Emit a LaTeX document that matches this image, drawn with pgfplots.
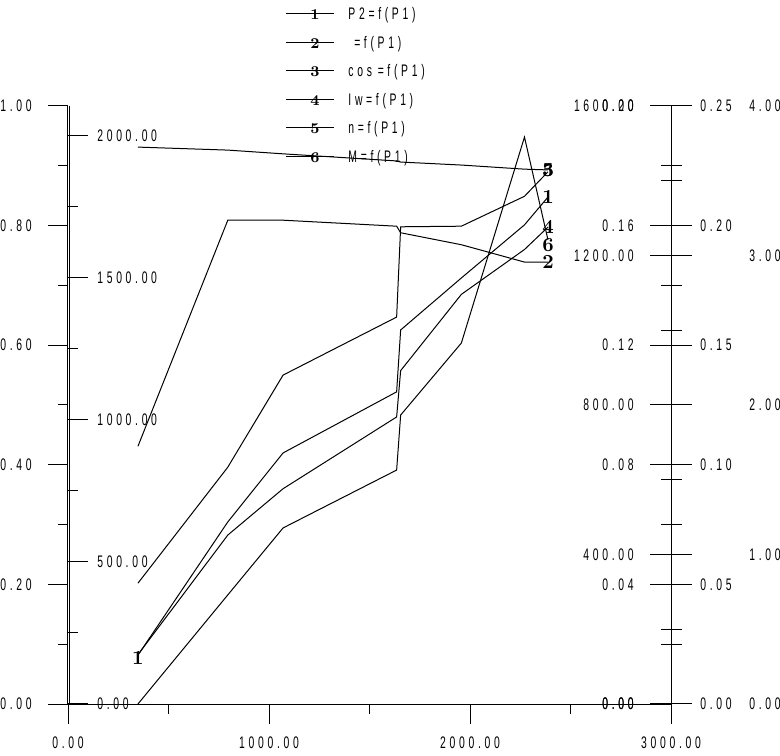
\documentclass[border=0pt]{standalone}
\usepackage{fontspec}
\usepackage{pgfplots}
\pgfplotsset{compat=1.18}
\newfontfamily\pf[FakeStretch=0.62,LetterSpace=22]{Liberation Sans}
\newcommand\pfs{\pf\fontsize{8.4}{9}\selectfont}
\newcommand\lbl{\fontsize{10}{10}\selectfont\bfseries}
\newcommand\lgd{\fontsize{7.5}{7.5}\selectfont\bfseries}

\pgfplotsset{
  base/.style={
    scale only axis, width=301.5bp, height=299bp,
    at={(34bp,26bp)}, anchor=origin,
    xmin=0, xmax=3000, clip=false,
    every tick/.style={black, line width=0.5bp},
    ticklabel style={font=\pfs, inner sep=0pt},
    every axis plot post/.append style={black, line width=0.5bp, mark=none},
    /pgf/number format/assume math mode=true,
    /pgf/number format/fixed, /pgf/number format/fixed zerofill,
    /pgf/number format/precision=2, /pgf/number format/1000 sep={},
  },
  over/.style={base, axis x line=none, xtick=\empty},
  plain/.style={axis line style={-, line width=0.5bp}},
  rticks/.style={tick align=center, major tick length=20.5bp, minor tick length=10.5bp},
  lg/.style={legend image code/.code={
    \draw[black, line width=0.5bp] (0bp,0bp) -- (24bp,0bp)
      node[midway, inner sep=0pt, font=\lgd] {#1};}},
}

\begin{document}
\begin{tikzpicture}
\path[use as bounding box] (0bp,0bp) rectangle (390bp,378bp);

% main axis: P1 on x, eta and cos phi on 0..1
\begin{axis}[base, ymin=0, ymax=1,
  axis x line=bottom, axis y line=left, plain, y axis line style={xshift=-0.5bp},
  xtick={0,1000,2000,3000}, minor xtick={500,1500,2500},
  ytick={0,0.2,0.4,0.6,0.8,1}, minor ytick={0.1,0.3,0.5,0.7,0.9},
  tick align=outside, major tick length=10bp, minor tick length=5bp,
  xticklabel style={anchor=north, yshift=-6bp},
  yticklabel style={anchor=east, xshift=-8bp},
  legend style={at={(0.36,1.165)}, anchor=north west, draw=none, fill=none,
    font=\pfs, row sep=8.25bp, column sep=7bp, inner sep=0pt,
    nodes={inner sep=0pt, text height=6bp, text depth=0bp}},
  legend cell align=left,
]
\addlegendimage{lg=1}\addlegendentry{P2=f(P1)}
\addlegendimage{lg=2}\addlegendentry{\hphantom{n}=f(P1)}
\addlegendimage{lg=3}\addlegendentry{cos\hphantom{n}=f(P1)}
\addlegendimage{lg=4}\addlegendentry{Iw=f(P1)}
\addlegendimage{lg=5}\addlegendentry{n=f(P1)}
\addlegendimage{lg=6}\addlegendentry{M=f(P1)}
% eta
\addplot[forget plot] coordinates {(348,0.431)(795,0.809)(1070,0.809)(1635,0.799)
  (1655,0.788)(1957,0.768)(2271,0.739)(2388,0.739)} node[pos=1, font=\lbl]{2};
% cos phi
\addplot[forget plot] coordinates {(348,0.202)(795,0.396)(1070,0.550)(1635,0.647)
  (1655,0.798)(1957,0.799)(2271,0.849)(2388,0.890)} node[pos=1, font=\lbl, yshift=1bp]{3};
\end{axis}

% P2, 0..2000 scale inside the left axis
\begin{axis}[over, ymin=0, ymax=2105.6,
  axis y line=left, plain, y axis line style={xshift=0.75bp},
  ytick={0,500,1000,1500,2000}, minor ytick={250,750,1250,1750},
  tick align=inside, major tick length=10bp, minor tick length=5bp,
  yticklabel style={anchor=west, xshift=14.5bp},
]
\addplot coordinates {(348,172)(795,641)(1070,884)(1635,1099)(1655,1317)
  (1957,1500)(2271,1687)(2388,1785)}
  node[pos=1, font=\lbl]{1} node[pos=0, font=\lbl, yshift=-1.5bp]{1};
\end{axis}

% n, 0..1600 scale on the right axis
\begin{axis}[over, ymin=0, ymax=1600,
  axis y line=right, plain, rticks,
  ytick={0,400,800,1200,1600}, minor ytick={200,600,1000,1400},
  yticklabel style={anchor=east, xshift=-28.75bp},
]
\addplot coordinates {(348,1490)(795,1482)(1070,1472)(1635,1453)(1655,1450)
  (1957,1442)(2271,1431)(2388,1429)} node[pos=1, font=\lbl]{5};
\end{axis}

% 0..0.20 scale, labels only
\begin{axis}[over, ymin=0, ymax=0.2,
  axis y line=right, axis line style={draw=none}, rticks, ytick style={draw=none},
  ytick={0,0.04,0.08,0.12,0.16,0.2},
  yticklabel style={anchor=east, xshift=-28.75bp},
]
\end{axis}

% M, 0..0.25 scale
\begin{axis}[over, ymin=0, ymax=0.25,
  axis y line=right, plain, rticks,
  ytick={0,0.05,0.1,0.15,0.2,0.25}, minor ytick={0.025,0.075,0.125,0.175,0.225},
  yticklabel style={anchor=west, xshift=4.25bp},
]
\addplot coordinates {(348,0)(795,0.0456)(1070,0.0736)(1635,0.0978)(1655,0.1208)
  (1957,0.1509)(2271,0.237)(2388,0.194)} node[pos=1, font=\lbl, yshift=-2.5bp]{6};
\end{axis}

% Iw, 0..4 scale
\begin{axis}[over, ymin=0, ymax=4,
  axis y line=right, axis line style={draw=none}, rticks, ytick style={draw=none},
  ytick={0,1,2,3,4},
  yticklabel style={anchor=west, xshift=28.75bp},
]
\addplot coordinates {(348,0.33)(795,1.13)(1070,1.44)(1635,1.92)(1655,2.23)
  (1957,2.74)(2271,3.04)(2388,3.19)} node[pos=1, font=\lbl]{4};
\end{axis}
\end{tikzpicture}
\end{document}
